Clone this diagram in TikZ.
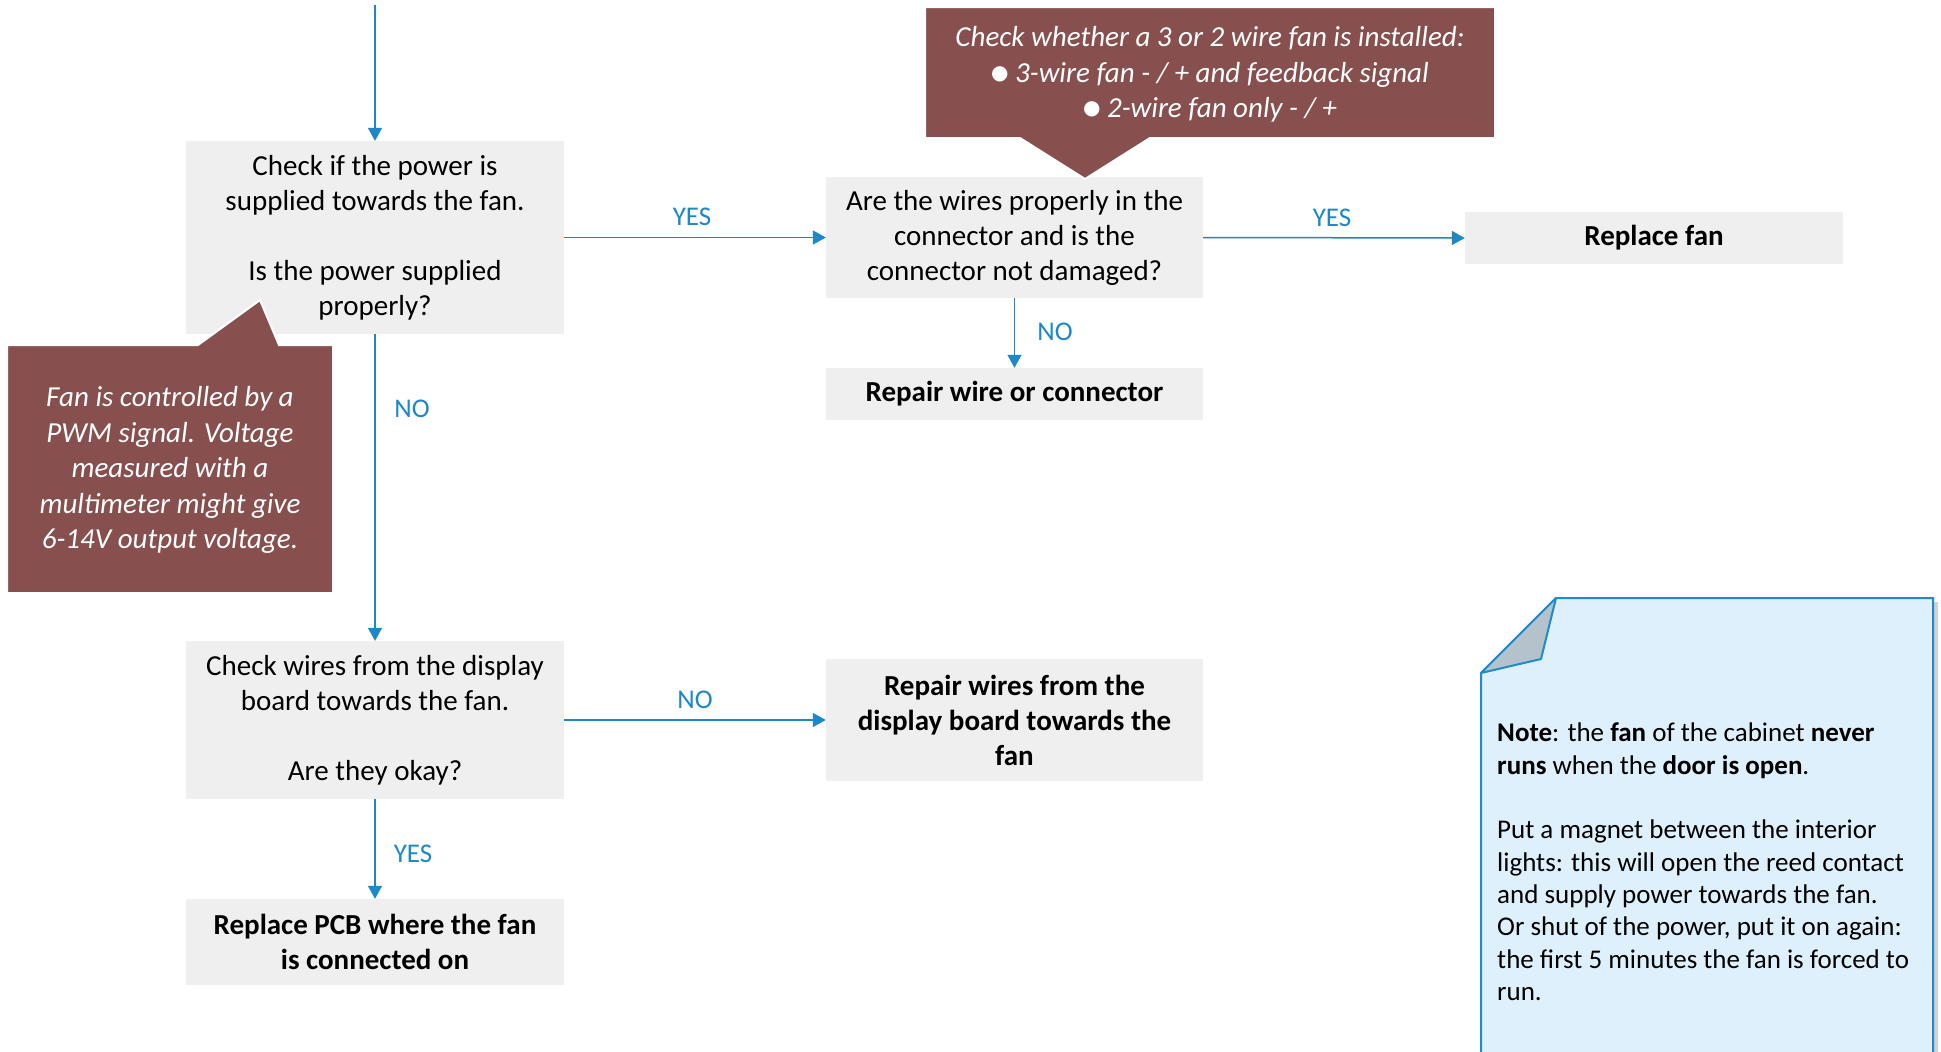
\documentclass[tikz,border=0pt]{standalone}
\usepackage{fontspec}
\setmainfont{Carlito}
\newfontfamily\symfont{DejaVu Sans}
\usetikzlibrary{arrows.meta}
\definecolor{boxgray}{HTML}{EFEFEF}
\definecolor{calloutred}{HTML}{87504F}
\definecolor{flowblue}{HTML}{1C87C9}
\definecolor{notefill}{HTML}{DDF0FB}
\definecolor{noteborder}{HTML}{1E8BCB}
\definecolor{foldgray}{HTML}{B4C2CB}
\tikzset{
  stepbox/.style={fill=boxgray, inner sep=0pt, align=center, font=\fontsize{29}{35}\selectfont, text=black},
  flow/.style={draw=flowblue, line width=1.5pt, -{Triangle[length=13pt,width=14pt]}},
  lbl/.style={text=flowblue, font=\fontsize{27}{32}\selectfont, inner sep=0pt},
  callout/.style={fill=calloutred, draw=white, line width=2pt},
  callouttext/.style={text=white, align=center, font=\fontsize{29}{35.5}\selectfont\itshape, inner sep=0pt},
}
\newcommand{\blt}{\raisebox{3pt}{\symfont\fontsize{20}{20}\selectfont ●}}
\begin{document}
\begin{tikzpicture}[x=1pt,y=-1pt]
\useasboundingbox (0,0) rectangle (1941,1052);
\clip (0,0) rectangle (1941,1052);
\fill[white] (0,0) rectangle (1941,1052);

% boxes
\node[stepbox, minimum width=378pt, minimum height=193pt] (A) at (375,237.5)
  {Check if the power is\\supplied towards the fan.\\~\\Is the power supplied\\properly?};
\node[stepbox, minimum width=377pt, minimum height=121pt] (B) at (1014.5,237.5)
  {Are the wires properly in the\\connector and is the\\connector not damaged?};
\node[stepbox, minimum width=378pt, minimum height=52pt, font=\fontsize{29}{35}\selectfont\bfseries] (C) at (1654,238)
  {Replace fan};
\node[stepbox, minimum width=377pt, minimum height=52pt, font=\fontsize{29}{35}\selectfont\bfseries] (D) at (1014.5,394)
  {Repair wire or connector};
\node[stepbox, minimum width=378pt, minimum height=158pt] (E) at (375,720)
  {Check wires from the display\\board towards the fan.\\~\\Are they okay?};
\node[stepbox, minimum width=377pt, minimum height=122pt, font=\fontsize{29}{35}\selectfont\bfseries] (F) at (1014.5,720)
  {Repair wires from the\\display board towards the\\fan};
\node[stepbox, minimum width=378pt, minimum height=86pt, font=\fontsize{29}{35}\selectfont\bfseries] (G) at (375,942)
  {Replace PCB where the fan\\is connected on};

% connectors
\coordinate (start) at (375,5);
\draw[flow] (start) -- (A.north);
\draw[flow] (A.east) -- (B.west);
\draw[flow] (B.east) -- (C.west);
\draw[flow] (B.south) -- (D.north);
\draw[flow] (A.south) -- (E.north);
\draw[flow] (E.east) -- (F.west);
\draw[flow] (E.south) -- (G.north);

% labels
\node[lbl] (l1) at (692,217) {YES};
\node[lbl] (l2) at (1332,218) {YES};
\node[lbl] (l3) at (1055,332) {NO};
\node[lbl] (l4) at (412,409) {NO};
\node[lbl] (l5) at (695,700) {NO};
\node[lbl] (l6) at (413,854) {YES};

% top callout
\draw[callout] (925,7) -- (1495,7) -- (1495,138) -- (1150,138) -- (1085,179) -- (1020,138) -- (925,138) -- cycle;
\node[callouttext] (ct) at (1210,74.5)
  {Check whether a 3 or 2 wire fan is installed:\\\blt{} 3-wire fan - / + and feedback signal\\\blt{} 2-wire fan only - / +};

% left callout
\draw[callout] (7,345) -- (198,345) -- (260,300) -- (279,345) -- (333,345) -- (333,593) -- (7,593) -- cycle;
\node[callouttext] (cl) at (170,470)
  {Fan is controlled by a\\PWM signal. Voltage\\measured with a\\multimeter might give\\6-14V output voltage.};

% note
\fill[black!18] (1560,602) -- (1938,602) -- (1938,1060) -- (1485,1060) -- (1485,677) -- cycle;
\draw[fill=notefill, draw=noteborder, line width=2pt, line join=miter]
  (1556,598) -- (1933,598) -- (1933,1060) -- (1481,1060) -- (1481,673) -- cycle;
\draw[fill=foldgray, draw=noteborder, line width=2pt, line join=round]
  (1481,673) -- (1556,598) -- (1541,659) -- cycle;
\node[anchor=north west, align=left, inner sep=0pt, font=\fontsize{27}{32.3}\selectfont] (note) at (1497,723)
  {\textbf{Note}: the \textbf{fan} of the cabinet \textbf{never}\\
   \textbf{runs} when the \textbf{door is open}.\\
   ~\\
   Put a magnet between the interior\\
   lights: this will open the reed contact\\
   and supply power towards the fan.\\
   Or shut of the power, put it on again:\\
   the first 5 minutes the fan is forced to\\
   run.};
\end{tikzpicture}
\end{document}
